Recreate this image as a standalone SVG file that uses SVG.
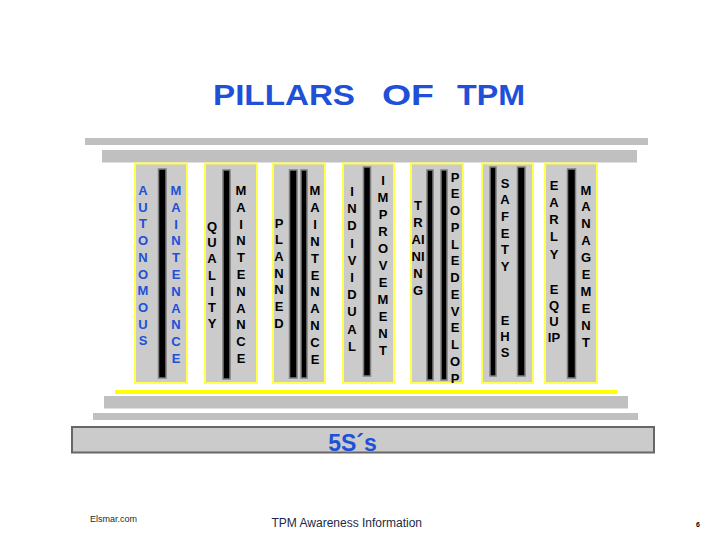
<svg xmlns="http://www.w3.org/2000/svg" width="720" height="540" viewBox="0 0 720 540">
<style>
.bg{fill:#ffffff}
.bar{fill:#c0c0c0}
.pillar{fill:#cbcbcb;stroke:#ffff4d;stroke-width:2}
.post{fill:#000000;stroke:#7f7f7f;stroke-width:1.5}
.lbl{font-family:"Liberation Sans",Arial,sans-serif;font-weight:bold;font-size:13px;text-anchor:middle;fill:#000000}
.blue{fill:#2050d8}
.title{font-family:"Liberation Sans",Arial,sans-serif;font-weight:bold;font-size:30px;fill:#2050d8}
.base{fill:#cbcbcb;stroke:#666666;stroke-width:2}
.foot{font-family:"Liberation Sans",Arial,sans-serif}
</style>
<rect class="bg" x="0" y="0" width="720" height="540"/>

<text class="title" y="105"><tspan x="213" textLength="142" lengthAdjust="spacingAndGlyphs">PILLARS</tspan><tspan x="382" textLength="52" lengthAdjust="spacingAndGlyphs">OF</tspan><tspan x="457" textLength="68" lengthAdjust="spacingAndGlyphs">TPM</tspan></text>

<g id="roof">
<rect class="bar" x="85" y="138" width="563" height="7"/>
<rect class="bar" x="102" y="150" width="535" height="12.5"/>
</g>

<g id="pillar-autonomous">
<rect class="pillar" x="135" y="163.5" width="52" height="219.5"/>
<rect class="post" x="158.5" y="169" width="7.5" height="209"/>
<text class="lbl blue"><tspan x="143" y="195">A</tspan><tspan x="143" dy="16.7">U</tspan><tspan x="143" dy="16.7">T</tspan><tspan x="143" dy="16.7">O</tspan><tspan x="143" dy="16.7">N</tspan><tspan x="143" dy="16.7">O</tspan><tspan x="143" dy="16.7">M</tspan><tspan x="143" dy="16.7">O</tspan><tspan x="143" dy="16.7">U</tspan><tspan x="143" dy="16.7">S</tspan></text>
<text class="lbl blue"><tspan x="176" y="195">M</tspan><tspan x="176" dy="16.8">A</tspan><tspan x="176" dy="16.8">I</tspan><tspan x="176" dy="16.8">N</tspan><tspan x="176" dy="16.8">T</tspan><tspan x="176" dy="16.8">E</tspan><tspan x="176" dy="16.8">N</tspan><tspan x="176" dy="16.8">A</tspan><tspan x="176" dy="16.8">N</tspan><tspan x="176" dy="16.8">C</tspan><tspan x="176" dy="16.8">E</tspan></text>
</g>

<g id="pillar-quality">
<rect class="pillar" x="205" y="163.5" width="52" height="219.5"/>
<rect class="post" x="223" y="170" width="7" height="209"/>
<text class="lbl"><tspan x="212" y="231">Q</tspan><tspan x="212" dy="16.2">U</tspan><tspan x="212" dy="16.2">A</tspan><tspan x="212" dy="16.2">L</tspan><tspan x="212" dy="16.2">I</tspan><tspan x="212" dy="16.2">T</tspan><tspan x="212" dy="16.2">Y</tspan></text>
<text class="lbl"><tspan x="241" y="195">M</tspan><tspan x="241" dy="16.8">A</tspan><tspan x="241" dy="16.8">I</tspan><tspan x="241" dy="16.8">N</tspan><tspan x="241" dy="16.8">T</tspan><tspan x="241" dy="16.8">E</tspan><tspan x="241" dy="16.8">N</tspan><tspan x="241" dy="16.8">A</tspan><tspan x="241" dy="16.8">N</tspan><tspan x="241" dy="16.8">C</tspan><tspan x="241" dy="16.8">E</tspan></text>
</g>

<g id="pillar-planned">
<rect class="pillar" x="273" y="163.5" width="52" height="219.5"/>
<rect class="post" x="289.5" y="170" width="7.5" height="208"/>
<rect class="post" x="301" y="170" width="6" height="208"/>
<text class="lbl"><tspan x="279" y="227.5">P</tspan><tspan x="279" dy="16.7">L</tspan><tspan x="279" dy="16.7">A</tspan><tspan x="279" dy="16.7">N</tspan><tspan x="279" dy="16.7">N</tspan><tspan x="279" dy="16.7">E</tspan><tspan x="279" dy="16.7">D</tspan></text>
<text class="lbl"><tspan x="315" y="195">M</tspan><tspan x="315" dy="16.9">A</tspan><tspan x="315" dy="16.9">I</tspan><tspan x="315" dy="16.9">N</tspan><tspan x="315" dy="16.9">T</tspan><tspan x="315" dy="16.9">E</tspan><tspan x="315" dy="16.9">N</tspan><tspan x="315" dy="16.9">A</tspan><tspan x="315" dy="16.9">N</tspan><tspan x="315" dy="16.9">C</tspan><tspan x="315" dy="16.9">E</tspan></text>
</g>

<g id="pillar-individual">
<rect class="pillar" x="343" y="163.5" width="51" height="219.5"/>
<rect class="post" x="363.5" y="167" width="7" height="209"/>
<text class="lbl"><tspan x="352" y="196">I</tspan><tspan x="352" dy="17.2">N</tspan><tspan x="352" dy="17.2">D</tspan><tspan x="352" dy="17.2">I</tspan><tspan x="352" dy="17.2">V</tspan><tspan x="352" dy="17.2">I</tspan><tspan x="352" dy="17.2">D</tspan><tspan x="352" dy="17.2">U</tspan><tspan x="352" dy="17.2">A</tspan><tspan x="352" dy="17.2">L</tspan></text>
<text class="lbl"><tspan x="383" y="184.5">I</tspan><tspan x="383" dy="17">M</tspan><tspan x="383" dy="17">P</tspan><tspan x="383" dy="17">R</tspan><tspan x="383" dy="17">O</tspan><tspan x="383" dy="17">V</tspan><tspan x="383" dy="17">E</tspan><tspan x="383" dy="17">M</tspan><tspan x="383" dy="17">E</tspan><tspan x="383" dy="17">N</tspan><tspan x="383" dy="17">T</tspan></text>
</g>

<g id="pillar-training">
<rect class="pillar" x="411" y="163.5" width="52" height="219.5"/>
<rect class="post" x="427" y="170" width="6" height="210"/>
<rect class="post" x="441" y="170" width="6" height="210"/>
<text class="lbl"><tspan x="418" y="209.5">T</tspan><tspan x="418" dy="17">R</tspan><tspan x="418" dy="17">AI</tspan><tspan x="418" dy="17">NI</tspan><tspan x="418" dy="17">N</tspan><tspan x="418" dy="17">G</tspan></text>
<text class="lbl"><tspan x="455" y="181.5">P</tspan><tspan x="455" dy="16.75">E</tspan><tspan x="455" dy="16.75">O</tspan><tspan x="455" dy="16.75">P</tspan><tspan x="455" dy="16.75">L</tspan><tspan x="455" dy="16.75">E</tspan><tspan x="455" dy="16.75">D</tspan><tspan x="455" dy="16.75">E</tspan><tspan x="455" dy="16.75">V</tspan><tspan x="455" dy="16.75">E</tspan><tspan x="455" dy="16.75">L</tspan><tspan x="455" dy="16.75">O</tspan><tspan x="455" dy="16.75">P</tspan></text>
</g>

<g id="pillar-safety">
<rect class="pillar" x="482" y="163.5" width="51" height="219.5"/>
<rect class="post" x="490" y="167" width="6" height="209"/>
<rect class="post" x="517.5" y="167" width="7.5" height="209"/>
<text class="lbl"><tspan x="505" y="187.5">S</tspan><tspan x="505" dy="16.7">A</tspan><tspan x="505" dy="16.7">F</tspan><tspan x="505" dy="16.7">E</tspan><tspan x="505" dy="16.7">T</tspan><tspan x="505" dy="16.7">Y</tspan></text>
<text class="lbl"><tspan x="505" y="324.5">E</tspan><tspan x="505" dy="16">H</tspan><tspan x="505" dy="16">S</tspan></text>
</g>

<g id="pillar-early-equipment">
<rect class="pillar" x="545" y="163.5" width="52" height="219.5"/>
<rect class="post" x="567.5" y="169" width="8" height="209"/>
<text class="lbl"><tspan x="554" y="189.5">E</tspan><tspan x="554" dy="17.25">A</tspan><tspan x="554" dy="17.25">R</tspan><tspan x="554" dy="17.25">L</tspan><tspan x="554" dy="17.25">Y</tspan></text>
<text class="lbl"><tspan x="554" y="293.5">E</tspan><tspan x="554" dy="16">Q</tspan><tspan x="554" dy="16">U</tspan><tspan x="554" dy="16">IP</tspan></text>
<text class="lbl"><tspan x="586" y="194.5">M</tspan><tspan x="586" dy="16.9">A</tspan><tspan x="586" dy="16.9">N</tspan><tspan x="586" dy="16.9">A</tspan><tspan x="586" dy="16.9">G</tspan><tspan x="586" dy="16.9">E</tspan><tspan x="586" dy="16.9">M</tspan><tspan x="586" dy="16.9">E</tspan><tspan x="586" dy="16.9">N</tspan><tspan x="586" dy="16.9">T</tspan></text>
</g>

<g id="foundation">
<rect x="115" y="390" width="502" height="4" fill="#ffff00"/>
<rect class="bar" x="104" y="396" width="524" height="12.5"/>
<rect class="bar" x="93" y="413" width="545" height="7"/>
</g>

<g id="base-5s">
<rect class="base" x="72" y="427" width="582" height="25.5"/>
<text x="352.5" y="451" font-family="Liberation Sans, Arial, sans-serif" font-weight="bold" font-size="23" text-anchor="middle" fill="#2050d8">5S´s</text>
</g>

<g id="footer">
<text class="foot" x="90" y="522" font-size="9" fill="#1a301a">Elsmar.com</text>
<text class="foot" x="271.5" y="527" font-size="12" fill="#1b2a48">TPM Awareness Information</text>
<text class="foot" x="696" y="527" font-size="7" font-weight="bold" fill="#000000">6</text>
</g>
</svg>
